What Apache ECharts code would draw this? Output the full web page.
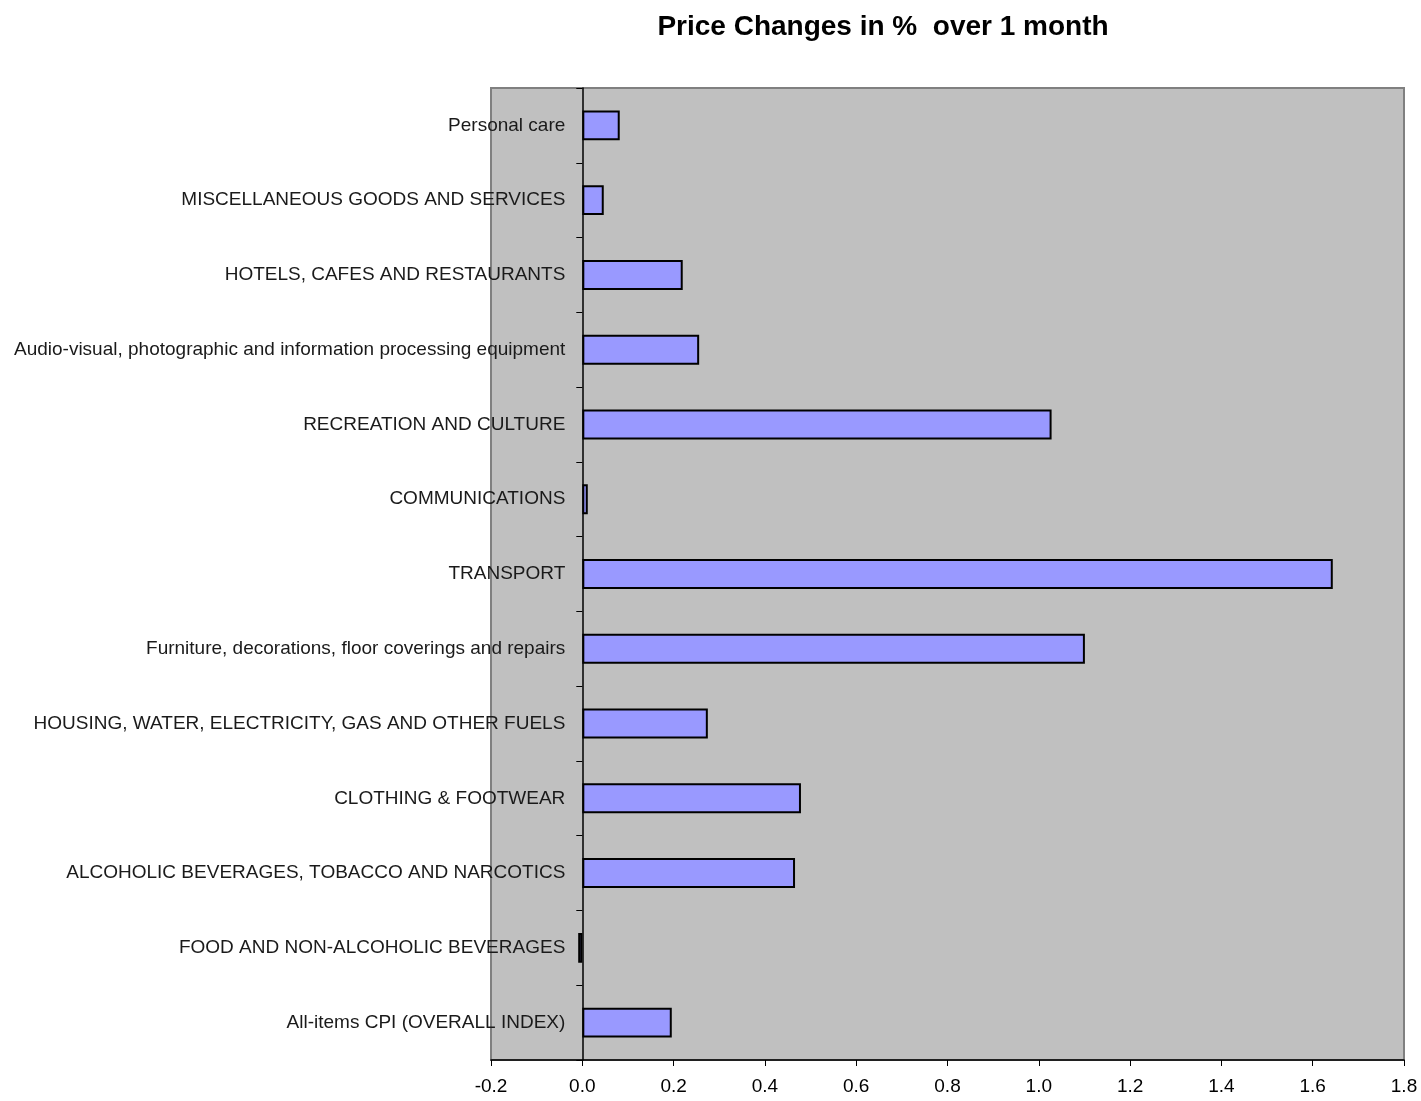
<!DOCTYPE html>
<html>
<head>
<meta charset="utf-8">
<script src="https://cdn.jsdelivr.net/npm/echarts@6/dist/echarts.min.js"></script>
<style>
html,body{margin:0;padding:0;background:#fff;}
#chart{width:1421px;height:1101px;}
</style>
</head>
<body>
<div id="chart"></div>
<script>
var titleText = 'Price Changes in %  over 1 month';
var categories = [
  'All-items CPI (OVERALL INDEX)',
  'FOOD AND NON-ALCOHOLIC BEVERAGES',
  'ALCOHOLIC BEVERAGES, TOBACCO AND NARCOTICS',
  'CLOTHING & FOOTWEAR',
  'HOUSING, WATER, ELECTRICITY, GAS AND OTHER FUELS',
  'Furniture, decorations, floor coverings and repairs',
  'TRANSPORT',
  'COMMUNICATIONS',
  'RECREATION AND CULTURE',
  'Audio-visual, photographic and information processing equipment',
  'HOTELS, CAFES AND RESTAURANTS',
  'MISCELLANEOUS GOODS AND SERVICES',
  'Personal care'
];
var values = [0.196, -0.009, 0.466, 0.479, 0.275, 1.101, 1.644, 0.012, 1.028, 0.256, 0.22, 0.047, 0.082];
var xMin = -0.2, xMax = 1.8, xStep = 0.2;

var fontFam = '"Liberation Sans Narrow", "Liberation Sans", Arial, sans-serif';
var gridLeft = 491, gridRight = 17;
var plotW = 1421 - gridLeft - gridRight;
var zeroOffset = -plotW * (0 - xMin) / (xMax - xMin);

var chart = echarts.init(document.getElementById('chart'), null, {renderer: 'canvas'});
chart.setOption({
  animation: false,
  backgroundColor: '#ffffff',
  title: {
    text: titleText,
    left: 878, top: 8, textAlign: 'center',
    textStyle: {fontFamily: fontFam, fontWeight: 'bold', fontSize: 28, color: '#000'}
  },
  grid: {
    left: gridLeft, right: gridRight, top: 88, bottom: 41,
    outerBoundsMode: 'none', containLabel: false,
    show: true, backgroundColor: '#C0C0C0', borderColor: '#808080', borderWidth: 2
  },
  xAxis: {
    type: 'value', min: xMin, max: xMax, interval: xStep,
    axisLine: {show: true, onZero: false, lineStyle: {color: '#000', width: 1.5}},
    axisTick: {show: true, length: 6, lineStyle: {color: '#000'}},
    splitLine: {show: false},
    axisLabel: {
      margin: 17, fontSize: 19, color: '#000', fontFamily: fontFam,
      formatter: function (v) { return v.toFixed(1); }
    }
  },
  yAxis: {
    type: 'category', data: categories,
    offset: zeroOffset,
    axisLine: {show: true, onZero: false, lineStyle: {color: '#000', width: 1.5}},
    axisTick: {show: true, length: 6, lineStyle: {color: '#000'}},
    axisLabel: {margin: 17, fontSize: 19, color: '#1a1a1a', fontFamily: fontFam, interval: 0, padding: [4, 0, 0, 0]}
  },
  series: [{
    type: 'bar', data: values, barWidth: '40%',
    itemStyle: {color: '#9999FF', borderColor: '#000', borderWidth: 2}
  }]
});
</script>
</body>
</html>
